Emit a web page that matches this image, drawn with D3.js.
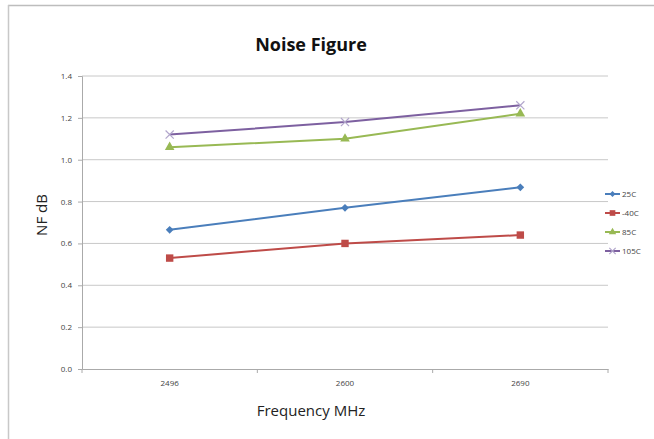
<!DOCTYPE html>
<html>
<head>
<meta charset="utf-8">
<script src="https://cdn.jsdelivr.net/npm/d3@7"></script>
<style>
body { margin: 0; background: #fff; }
text { font-family: "Open Sans", "Liberation Sans", sans-serif; }
</style>
</head>
<body>
<script>
var categories = ["2496", "2600", "2690"]
var seriesNames = ["25C", "-40C", "85C", "105C"]
var v25 = [0.665, 0.77, 0.868]
var vm40 = [0.53, 0.60, 0.64]
var v85 = [1.06, 1.10, 1.22]
var v105 = [1.12, 1.18, 1.26]
var yTicks = [0, 0.2, 0.4, 0.6, 0.8, 1.0, 1.2, 1.4]

var colors = ["#4a7ebb", "#be4b48", "#98b954", "#7d60a0"]
var series = [v25, vm40, v85, v105]

var width = 654, height = 439
var plotLeft = 82, plotRight = 608, plotTop = 76, plotBottom = 369

var svg = d3.select("body").append("svg")
    .attr("width", width).attr("height", height)

// outer chart border (only top and left show)
svg.append("line").attr("x1", 8).attr("x2", 654).attr("y1", 5.5).attr("y2", 5.5)
    .attr("stroke", "#bdbdbd").attr("stroke-width", 1.5)
svg.append("line").attr("x1", 8.5).attr("x2", 8.5).attr("y1", 5).attr("y2", 439)
    .attr("stroke", "#c8c8c8").attr("stroke-width", 1.5)

var x = d3.scaleBand().domain(categories).range([plotLeft, plotRight])
var y = d3.scaleLinear().domain([0, 1.4]).range([plotBottom, plotTop])

// gridlines
svg.append("g").selectAll("line").data(yTicks.slice(1)).enter().append("line")
    .attr("x1", plotLeft).attr("x2", plotRight)
    .attr("y1", d => y(d)).attr("y2", d => y(d))
    .attr("stroke", "#c8c8c8").attr("stroke-width", 1)

// y axis
var yAxis = svg.append("g").attr("transform", "translate(" + plotLeft + ",0)")
    .call(d3.axisLeft(y).tickValues(yTicks).tickFormat(d3.format(".1f")).tickSize(4).tickPadding(6))
yAxis.select(".domain").attr("stroke", "#aaa")
yAxis.selectAll(".tick line").attr("stroke", "#aaa")
yAxis.selectAll("text").attr("font-size", "8px").attr("fill", "#444")

// x axis
var xAxis = svg.append("g").attr("transform", "translate(0," + plotBottom + ")")
    .call(d3.axisBottom(x).tickSize(0).tickPadding(11))
xAxis.select(".domain").attr("stroke", "#aaa")
xAxis.selectAll("text").attr("font-size", "8px").attr("fill", "#444")
// category boundary ticks
svg.append("g").selectAll("line").data(categories.concat(["end"])).enter().append("line")
    .attr("x1", (d, i) => plotLeft + i * x.bandwidth()).attr("x2", (d, i) => plotLeft + i * x.bandwidth())
    .attr("y1", plotBottom).attr("y2", plotBottom + 4)
    .attr("stroke", "#aaa")

var cx = d => x(d) + x.bandwidth() / 2
// diamond = rotated square, x = rotated cross
var symType = k => [d3.symbolSquare, d3.symbolSquare, d3.symbolTriangle, d3.symbolTimes][k]
var symRot = k => (k == 0 ? " rotate(45)" : "")

var line = d3.line().x((d, i) => cx(categories[i])).y(d => y(d))

function drawMarker(sel, k, big) {
    var sizes = big ? [30, 55, 40, 45] : [18, 32, 24, 28]
    sel.attr("d", d3.symbol().type(symType(k)).size(sizes[k]))
    if (k == 3) sel.attr("fill", "none").attr("stroke", "#b2a6cc").attr("stroke-width", 1.2)
    else sel.attr("fill", colors[k])
}

series.forEach(function(s, k) {
    var g = svg.append("g")
    g.append("path").datum(s).attr("d", line)
        .attr("fill", "none").attr("stroke", colors[k]).attr("stroke-width", 2)
    g.selectAll(".m").data(s).enter().append("path")
        .attr("transform", (d, i) => "translate(" + cx(categories[i]) + "," + y(d) + ")" + symRot(k))
        .call(drawMarker, k, true)
})

// legend
var legend = svg.append("g")
seriesNames.forEach(function(n, k) {
    var ly = 194 + k * 19
    legend.append("line").attr("x1", 605).attr("x2", 620).attr("y1", ly).attr("y2", ly)
        .attr("stroke", colors[k]).attr("stroke-width", 2)
    legend.append("path").attr("transform", "translate(612.5," + ly + ")" + symRot(k))
        .call(drawMarker, k, false)
    legend.append("text").attr("x", 622).attr("y", ly + 3)
        .attr("font-size", "8px").attr("fill", "#444").text(n)
})

// titles
svg.append("text").attr("x", 311).attr("y", 51).attr("text-anchor", "middle")
    .attr("font-size", "18px").attr("font-weight", "bold").attr("fill", "#111").text("Noise Figure")
svg.append("text").attr("x", 311).attr("y", 416).attr("text-anchor", "middle")
    .attr("font-size", "15px").attr("fill", "#222").text("Frequency MHz")
svg.append("text").attr("transform", "translate(47,215) rotate(-90)").attr("text-anchor", "middle")
    .attr("font-size", "15px").attr("fill", "#222").text("NF dB")
</script>
</body>
</html>
